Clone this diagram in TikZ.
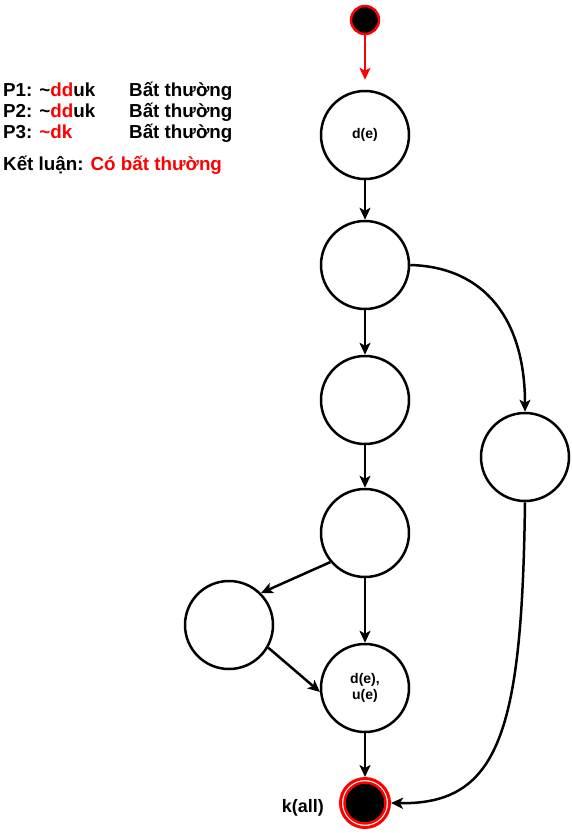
\documentclass[tikz,border=0pt]{standalone}
\usepackage{fontspec}
\setmainfont{Liberation Sans}
\usetikzlibrary{arrows.meta}
\definecolor{myred}{HTML}{FF0000}
\begin{document}
\begin{tikzpicture}[x=1pt,y=-1pt,
  state/.style={circle, draw, line width=2.5pt, minimum size=88pt, inner sep=0pt, fill=white,
    font=\bfseries\fontsize{14}{16}\selectfont, align=center},
  arr/.style={line width=2.5pt, -{Stealth[length=12pt,width=11pt,inset=3pt]}},
  txt/.style={inner sep=0pt, anchor=base west, font=\bfseries\fontsize{18.8}{22}\selectfont}
]
\useasboundingbox (0,0) rectangle (572,833);

% states
\node[circle, draw=myred, fill=black, line width=2.5pt, minimum size=28pt, inner sep=0pt] (start) at (365,20) {};
\node[state] (n1) at (365,135) {d(e)};
\node[state] (n2) at (365,265) {};
\node[state] (n3) at (365,400) {};
\node[state] (n4) at (365,533) {};
\node[state] (n5) at (229,625) {};
\node[state] (n6) at (365,688) {d(e),\\u(e)};
\node[state] (n7) at (525,457) {};
\node[circle, draw=myred, fill=white, line width=3pt, minimum size=49pt, inner sep=0pt] (end) at (365,803) {};
\node[circle, draw=myred, fill=black, line width=2.5pt, minimum size=41pt, inner sep=0pt] (endin) at (365,803) {};

% connectors
\draw[arr, myred] (start) -- ([yshift=10pt]n1.north);
\draw[arr] (n1) -- (n2);
\draw[arr] (n2) -- (n3);
\draw[arr] (n3) -- (n4);
\draw[arr] (n4.220) -- (n5.north east);
\draw[arr] (n4) -- (n6);
\draw[arr] (n5.330) -- (n6.185);
\draw[arr] (n6) -- (end);
\draw[arr] (n2.east) .. controls (485,267) and (525,320) .. (n7.north);
\draw[arr] (n7.south) .. controls (522,730) and (500,805) .. (end.east);

% text
\node[txt] (p1) at (3,96) {P1: \textasciitilde\textcolor{myred}{dd}uk};
\node[txt] (p1b) at (129,96) {Bất thường};
\node[txt] (p2) at (3,117) {P2: \textasciitilde\textcolor{myred}{dd}uk};
\node[txt] (p2b) at (129,117) {Bất thường};
\node[txt] (p3) at (3,138) {P3: \textcolor{myred}{\textasciitilde dk}};
\node[txt] (p3b) at (129,138) {Bất thường};
\node[txt] (kl) at (3,170) {Kết luận: \textcolor{myred}{Có bất thường}};
\node[inner sep=0pt, anchor=base east, font=\bfseries\fontsize{18}{20}\selectfont] (kall) at (324,812) {k(all)};
\end{tikzpicture}
\end{document}
